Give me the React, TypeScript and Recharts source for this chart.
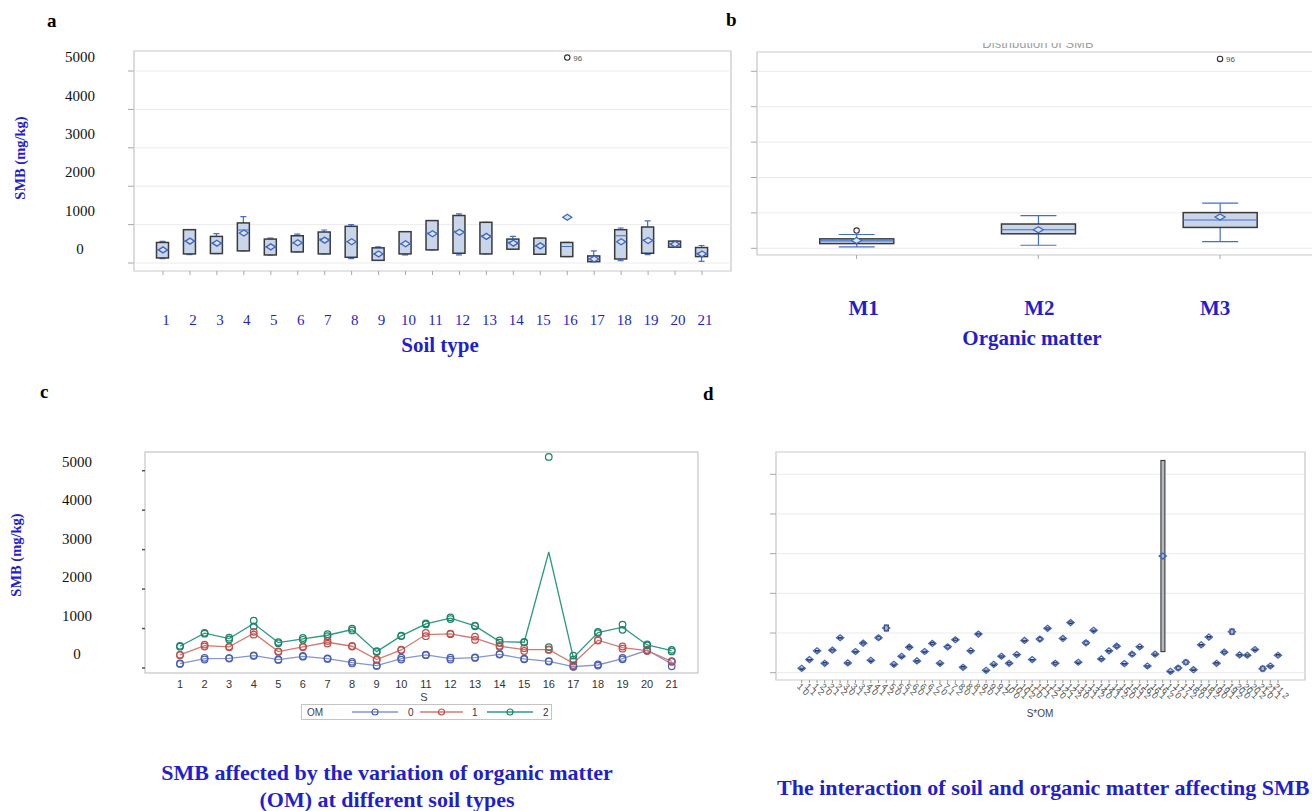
import React from 'react';
import { ComposedChart, Bar, Scatter, Line, XAxis, YAxis, CartesianGrid, Legend, Label } from 'recharts';

const SERIF = '"Liberation Serif", "Times New Roman", serif';
const SANS = '"Liberation Sans", Arial, sans-serif';
const BLUE = '#1f1fcf';

const yTicks = [0, 1000, 2000, 3000, 4000, 5000];

// panel a: SMB by soil type (box summaries)
const soilTypes = ['1', '2', '3', '4', '5', '6', '7', '8', '9', '10', '11', '12', '13', '14', '15', '16', '17', '18', '19', '20', '21'];
const soilMin = [114, 219, 246, 316, 210, 289, 237, 114, 70, 210, 342, 210, 237, 360, 228, 167, 35, 61, 219, 412, 44];
const soilQ1 = [132, 237, 246, 316, 210, 289, 237, 149, 70, 237, 342, 254, 237, 360, 228, 167, 35, 105, 254, 412, 167];
const soilMedian = [345, 570, 517, 860, 421, 526, 623, 560, 237, 500, 780, 825, 710, 535, 447, 430, 105, 710, 605, 491, 254];
const soilQ3 = [535, 868, 693, 1044, 623, 710, 807, 956, 395, 816, 1105, 1237, 1060, 623, 649, 535, 184, 868, 938, 570, 403];
const soilMax = [561, 868, 763, 1210, 649, 754, 860, 1000, 421, 816, 1105, 1280, 1060, 693, 649, 535, 316, 912, 1096, 570, 456];
const soilMean = [342, 570, 517, 780, 421, 526, 596, 552, 237, 500, 763, 800, 693, 517, 447, 1190, 105, 552, 588, 491, 237];
const soilOutlier = [null, null, null, null, null, null, null, null, null, null, null, null, null, null, null, 5350, null, null, null, null, null];
const soilOutlierId = ['', '', '', '', '', '', '', '', '', '', '', '', '', '', '', '96', '', '', '', '', ''];

// panel b: SMB by organic matter level
const omLevels = ['M1', 'M2', 'M3'];
const omMin = [38, 86, 190];
const omQ1 = [133, 410, 590];
const omMedian = [210, 524, 800];
const omQ3 = [267, 686, 1009];
const omMax = [390, 923, 1276];
const omMean = [219, 524, 885];
const omOutlier = [500, null, 5350];
const omOutlierId = ['', '', '96'];

// panels c and d: cell means and the two replicates per soil type x OM
const omCodes = ['0', '1', '2'];
const om0Mean = [110, 237, 246, 313, 212, 296, 237, 136, 59, 237, 330, 237, 263, 347, 229, 169, 34, 76, 237, 449, 102];
const om1Mean = [330, 568, 534, 881, 415, 534, 652, 551, 212, 457, 847, 864, 754, 551, 466, 466, 119, 703, 517, 440, 169];
const om2Mean = [551, 881, 745, 1126, 644, 737, 830, 974, 415, 813, 1118, 1262, 1067, 669, 652, 2940, 263, 898, 1033, 584, 440];
const om0RepA = [104, 215, 240, 305, 205, 288, 230, 115, 52, 212, 325, 212, 255, 340, 222, 163, 30, 61, 219, 442, 44];
const om0RepB = [116, 258, 252, 320, 218, 304, 244, 157, 66, 262, 335, 262, 270, 354, 236, 175, 38, 91, 255, 456, 160];
const om1RepA = [322, 545, 526, 845, 408, 526, 618, 544, 205, 450, 806, 856, 712, 540, 430, 458, 75, 695, 490, 428, 162];
const om1RepB = [338, 591, 542, 917, 422, 542, 686, 558, 219, 464, 888, 872, 796, 562, 502, 474, 163, 711, 544, 452, 176];
const om2RepA = [540, 870, 722, 1051, 630, 714, 805, 952, 405, 808, 1105, 1240, 1058, 640, 645, 530, 212, 884, 966, 572, 420];
const om2RepB = [562, 892, 768, 1201, 658, 760, 855, 996, 425, 818, 1131, 1284, 1076, 698, 659, 5350, 314, 912, 1100, 596, 460];

const omSeries = [
  { code: '0', line: '#8494d6', dot: '#4a5fb5', mean: 'm0', a: 'a0', b: 'b0' },
  { code: '1', line: '#d27a70', dot: '#c0504d', mean: 'm1', a: 'a1', b: 'b1' },
  { code: '2', line: '#2e9a80', dot: '#1c8569', mean: 'm2', a: 'a2', b: 'b2' },
];

const soilRows = soilTypes.map((s, i) => ({
  s,
  min: soilMin[i],
  q1: soilQ1[i],
  med: soilMedian[i],
  q3: soilQ3[i],
  max: soilMax[i],
  mean: soilMean[i],
  out: soilOutlier[i],
  outId: soilOutlierId[i],
}));

const omRows = omLevels.map((s, i) => ({
  s,
  min: omMin[i],
  q1: omQ1[i],
  med: omMedian[i],
  q3: omQ3[i],
  max: omMax[i],
  mean: omMean[i],
  out: omOutlier[i],
  outId: omOutlierId[i],
}));

const lineRows = soilTypes.map((s, i) => ({
  s,
  m0: om0Mean[i], m1: om1Mean[i], m2: om2Mean[i],
  a0: om0RepA[i], b0: om0RepB[i],
  a1: om1RepA[i], b1: om1RepB[i],
  a2: om2RepA[i], b2: om2RepB[i],
}));

const meansByOm = [om0Mean, om1Mean, om2Mean];
const repAByOm = [om0RepA, om1RepA, om2RepA];
const repBByOm = [om0RepB, om1RepB, om2RepB];
const cellRows = soilTypes.flatMap((s, i) =>
  omCodes.map((o, j) => ({ cell: `${s} ${o}`, mean: meansByOm[j][i], lo: repAByOm[j][i], hi: repBByOm[j][i] }))
);

const ok = (v: any) => typeof v === 'number' && isFinite(v);

const boxShape = (capHalf: number) => (p: any) => {
  const { x, y, width, height } = p;
  const d = p.payload ?? p;
  if (!ok(x) || !ok(y) || !ok(height)) return <g />;
  const py = (v: number) => y + ((d.max - v) / (d.max - d.min)) * height;
  const cx = x + width / 2;
  const wc = '#3f6fd1';
  return (
    <g>
      <line x1={cx} x2={cx} y1={py(d.max)} y2={py(d.q3)} stroke={wc} strokeWidth={1.2} />
      <line x1={cx} x2={cx} y1={py(d.q1)} y2={py(d.min)} stroke={wc} strokeWidth={1.2} />
      <line x1={cx - capHalf} x2={cx + capHalf} y1={py(d.max)} y2={py(d.max)} stroke={wc} strokeWidth={1.2} />
      <line x1={cx - capHalf} x2={cx + capHalf} y1={py(d.min)} y2={py(d.min)} stroke={wc} strokeWidth={1.2} />
      <rect x={x} y={py(d.q3)} width={width} height={Math.max(py(d.q1) - py(d.q3), 1)} fill="#c9d5e8" stroke="#3a3a3a" strokeWidth={1.5} />
      <line x1={x} x2={x + width} y1={py(d.med)} y2={py(d.med)} stroke={wc} strokeWidth={1.2} />
    </g>
  );
};

const diamond = (hw: number, hh: number, fill: string) => (p: any) => {
  const { cx, cy } = p;
  if (!ok(cx) || !ok(cy)) return <g />;
  return (
    <path
      d={`M${cx - hw},${cy}L${cx},${cy - hh}L${cx + hw},${cy}L${cx},${cy + hh}Z`}
      fill={fill}
      stroke="#3d66c8"
      strokeWidth={1.3}
    />
  );
};

const outlierShape = (p: any) => {
  const { cx, cy } = p;
  const d = p.payload ?? {};
  if (d.out == null || !ok(cx) || !ok(cy)) return <g />;
  return (
    <g>
      <circle cx={cx} cy={cy} r={2.7} fill="none" stroke="#333" strokeWidth={1.1} />
      {d.outId ? (
        <text x={cx + 6} y={cy + 3} fontSize={8} fill="#555" fontFamily={SANS}>
          {d.outId}
        </text>
      ) : null}
    </g>
  );
};

const ring = (color: string) => (p: any) => {
  const { cx, cy } = p;
  if (!ok(cx) || !ok(cy)) return <g />;
  return <circle cx={cx} cy={cy} r={3.3} fill="none" stroke={color} strokeWidth={1.2} />;
};

const rangeBar = (p: any) => {
  const { x, y, width, height } = p;
  if (!ok(x) || !ok(y) || !ok(height)) return <g />;
  return <rect x={x} y={y} width={width} height={Math.max(height, 1.5)} fill="#b4b8c0" stroke="#2b2b2b" strokeWidth={1} />;
};

const noTick = () => <g />;

const yTickA = (p: any) => (
  <text x={80} y={p.y - 14} dy="0.35em" textAnchor="middle" fontFamily={SERIF} fontSize={15} fill="#111">
    {p.payload.value}
  </text>
);

const yTickC = (p: any) => (
  <text x={77} y={p.y - (9 + (5000 - p.payload.value) / 1000)} dy="0.35em" textAnchor="middle" fontFamily={SERIF} fontSize={15} fill="#111">
    {p.payload.value}
  </text>
);

const soilTick = (p: any) => (
  <text x={p.x + 3} y={325} textAnchor="middle" fontFamily={SERIF} fontSize={15} fill={BLUE}>
    {p.payload.value}
  </text>
);

const omTick = (p: any) => (
  <text x={p.x + 7 - 6 * (p.index ?? 0)} y={315} textAnchor="middle" fontFamily={SERIF} fontSize={21} fontWeight="bold" fill={BLUE}>
    {p.payload.value}
  </text>
);

const sTick = (p: any) => (
  <text x={p.x} y={308} textAnchor="middle" fontFamily={SANS} fontSize={11} fill="#333">
    {p.payload.value}
  </text>
);

const cellTick = (p: any) => (
  <text x={p.x - 3} y={305} dy={3} transform={`rotate(45 ${p.x - 3} 305)`} fontFamily={SANS} fontSize={9} fill="#555">
    {p.payload.value}
  </text>
);

const yTitle = (x: number, y: number) => () => (
  <text x={x} y={y} transform={`rotate(-90 ${x} ${y})`} dy="0.35em" textAnchor="middle" fontFamily={SERIF} fontSize={14.5} fontWeight="bold" fill={BLUE}>
    SMB (mg/kg)
  </text>
);

function OmLegend() {
  const items = [
    { x1: 51, x2: 97, tx: 107 },
    { x1: 119, x2: 162, tx: 171 },
    { x1: 186, x2: 232, tx: 242 },
  ];
  return (
    <svg width={251} height={16} style={{ display: 'block' }}>
      <rect x={0.5} y={0.5} width={250} height={15} fill="#fff" stroke="#c4c4c4" />
      <text x={6} y={12} fontFamily={SANS} fontSize={10} fill="#444">OM</text>
      {omSeries.map((s, i) => (
        <g key={s.code}>
          <line x1={items[i].x1} x2={items[i].x2} y1={8} y2={8} stroke={s.line} strokeWidth={1.3} />
          <circle cx={(items[i].x1 + items[i].x2) / 2} cy={8} r={3} fill="none" stroke={s.dot} strokeWidth={1.2} />
          <text x={items[i].tx} y={12} fontFamily={SANS} fontSize={10} fill="#333">{s.code}</text>
        </g>
      ))}
    </svg>
  );
}

const label = (style: React.CSSProperties, text: React.ReactNode) => (
  <div style={{ position: 'absolute', fontFamily: SERIF, fontWeight: 'bold', whiteSpace: 'nowrap', ...style }}>{text}</div>
);

export default function App() {
  return (
    <div style={{ position: 'absolute', left: 0, top: 0, width: 1312, height: 811, overflow: 'hidden', background: '#fff' }}>
      <style>{'.recharts-cartesian-grid-bg{stroke:#b9b9b9;stroke-width:1px}'}</style>

      {/* a */}
      <div style={{ position: 'absolute', left: 0, top: 0 }}>
        <ComposedChart width={740} height={360} data={soilRows} margin={{ top: 51, right: 9, left: 0, bottom: 0 }}>
          <CartesianGrid vertical={false} stroke="#ebebeb" fill="#fff" />
          <XAxis dataKey="s" type="category" scale="band" interval={0} padding={{ left: 15.5, right: 15.5 }} height={89}
            axisLine={false} tickSize={4} tickLine={{ stroke: '#a8a8a8' }} tick={soilTick}>
            <Label content={() => (
              <text x={440} y={352} textAnchor="middle" fontFamily={SERIF} fontSize={21} fontWeight="bold" fill={BLUE}>Soil type</text>
            )} />
          </XAxis>
          <YAxis type="number" domain={[-208, 5521]} ticks={yTicks} allowDataOverflow width={134} axisLine={false}
            tickSize={6} tickLine={{ stroke: '#a8a8a8' }} tick={yTickA}>
            <Label content={yTitle(20, 158)} />
          </YAxis>
          <Bar dataKey={(d: any) => [d.min, d.max]} barSize={12} shape={boxShape(3)} isAnimationActive={false} />
          <Scatter dataKey="mean" shape={diamond(4.5, 3, '#dde5f2')} isAnimationActive={false} />
          <Scatter dataKey="out" shape={outlierShape} isAnimationActive={false} />
        </ComposedChart>
      </div>

      {/* b */}
      <div style={{ position: 'absolute', left: 740, top: 0 }}>
        <ComposedChart width={600} height={360} data={omRows} margin={{ top: 52, right: 20, left: 0, bottom: 0 }}>
          <CartesianGrid vertical={false} stroke="#ebebeb" fill="#fff" />
          <XAxis dataKey="s" type="category" scale="band" interval={0} padding={{ left: 8.75, right: 9.1 }} height={105}
            axisLine={false} tickSize={4} tickLine={{ stroke: '#a8a8a8' }} tick={omTick}>
            <Label content={() => (
              <text x={292} y={345} textAnchor="middle" fontFamily={SERIF} fontSize={21} fontWeight="bold" fill={BLUE}>Organic matter</text>
            )} />
          </XAxis>
          <YAxis type="number" domain={[-189, 5545]} ticks={yTicks} allowDataOverflow width={17} axisLine={false}
            tickSize={6} tickLine={{ stroke: '#a8a8a8' }} tick={noTick} />
          <Bar dataKey={(d: any) => [d.min, d.max]} barSize={74} shape={boxShape(18)} isAnimationActive={false} />
          <Scatter dataKey="mean" shape={diamond(5, 3, '#dde5f2')} isAnimationActive={false} />
          <Scatter dataKey="out" shape={outlierShape} isAnimationActive={false} />
        </ComposedChart>
      </div>
      <div style={{ position: 'absolute', left: 972, top: 43, width: 132, height: 6, overflow: 'hidden' }}>
        <div style={{ position: 'absolute', left: 0, top: -6, width: 132, textAlign: 'center', fontFamily: SANS, fontSize: 13, lineHeight: '13px', color: '#a0a0a0', whiteSpace: 'nowrap' }}>
          Distribution of SMB
        </div>
      </div>

      {/* c */}
      <div style={{ position: 'absolute', left: 0, top: 380 }}>
        <ComposedChart width={720} height={345} data={lineRows} margin={{ top: 72, right: 22, left: 0, bottom: 0 }}>
          <CartesianGrid horizontal={false} vertical={false} fill="#fff" />
          <XAxis dataKey="s" type="category" scale="band" interval={0} padding={{ left: 22.7, right: 14 }} height={52}
            axisLine={false} tickLine={false} tick={sTick}>
            <Label content={() => (
              <text x={424} y={321} textAnchor="middle" fontFamily={SANS} fontSize={11} fill="#444">S</text>
            )} />
          </XAxis>
          <YAxis type="number" domain={[-127, 5474]} ticks={yTicks} allowDataOverflow width={145} axisLine={false}
            tickSize={3} tickLine={{ stroke: '#555', strokeWidth: 1.5 }} tick={yTickC}>
            <Label content={yTitle(16, 175)} />
          </YAxis>
          {omSeries.map((s) => (
            <Line key={`l${s.code}`} dataKey={s.mean} type="linear" stroke={s.line} strokeWidth={1.3} dot={false} activeDot={false} isAnimationActive={false} />
          ))}
          {omSeries.map((s) => (
            <Scatter key={`a${s.code}`} dataKey={s.a} shape={ring(s.dot)} isAnimationActive={false} />
          ))}
          {omSeries.map((s) => (
            <Scatter key={`b${s.code}`} dataKey={s.b} shape={ring(s.dot)} isAnimationActive={false} />
          ))}
          <Legend layout="horizontal" verticalAlign="middle" align="center"
            wrapperStyle={{ left: 301, top: 324, width: 251, height: 16 }} content={() => <OmLegend />} />
        </ComposedChart>
      </div>

      {/* d */}
      <div style={{ position: 'absolute', left: 740, top: 380 }}>
        <ComposedChart width={600} height={345} data={cellRows} margin={{ top: 72, right: 35, left: 0, bottom: 0 }}>
          <CartesianGrid vertical={false} stroke="#ebebeb" fill="#fff" />
          <XAxis dataKey="cell" type="category" scale="band" interval={0} padding={{ left: 21.86, right: 23.16 }} height={45}
            axisLine={false} tickSize={3} tickLine={{ stroke: '#999' }} tick={cellTick}>
            <Label content={() => (
              <text x={300} y={337} textAnchor="middle" fontFamily={SANS} fontSize={10} fill="#444">S*OM</text>
            )} />
          </XAxis>
          <YAxis type="number" domain={[-184, 5562]} ticks={yTicks} allowDataOverflow width={36} axisLine={false}
            tickSize={6} tickLine={{ stroke: '#a8a8a8' }} tick={noTick} />
          <Bar dataKey={(d: any) => [d.lo, d.hi]} barSize={4} shape={rangeBar} isAnimationActive={false} />
          <Scatter dataKey="mean" shape={diamond(3.6, 3, 'none')} isAnimationActive={false} />
        </ComposedChart>
      </div>

      {label({ left: 47, top: 11, fontSize: 19, lineHeight: '19px', color: '#000' }, 'a')}
      {label({ left: 726, top: 10, fontSize: 19, lineHeight: '19px', color: '#000' }, 'b')}
      {label({ left: 40, top: 382, fontSize: 19, lineHeight: '19px', color: '#000' }, 'c')}
      {label({ left: 703, top: 384, fontSize: 19, lineHeight: '19px', color: '#000' }, 'd')}

      {label(
        { left: 0, top: 759, width: 774, textAlign: 'center', fontSize: 22, lineHeight: '27px', color: BLUE },
        <>
          SMB affected by the variation of organic matter
          <br />
          (OM) at different soil types
        </>
      )}
      {label({ left: 777, top: 777, fontSize: 22, lineHeight: '22px', color: BLUE }, 'The interaction of soil and organic matter affecting SMB')}
    </div>
  );
}
